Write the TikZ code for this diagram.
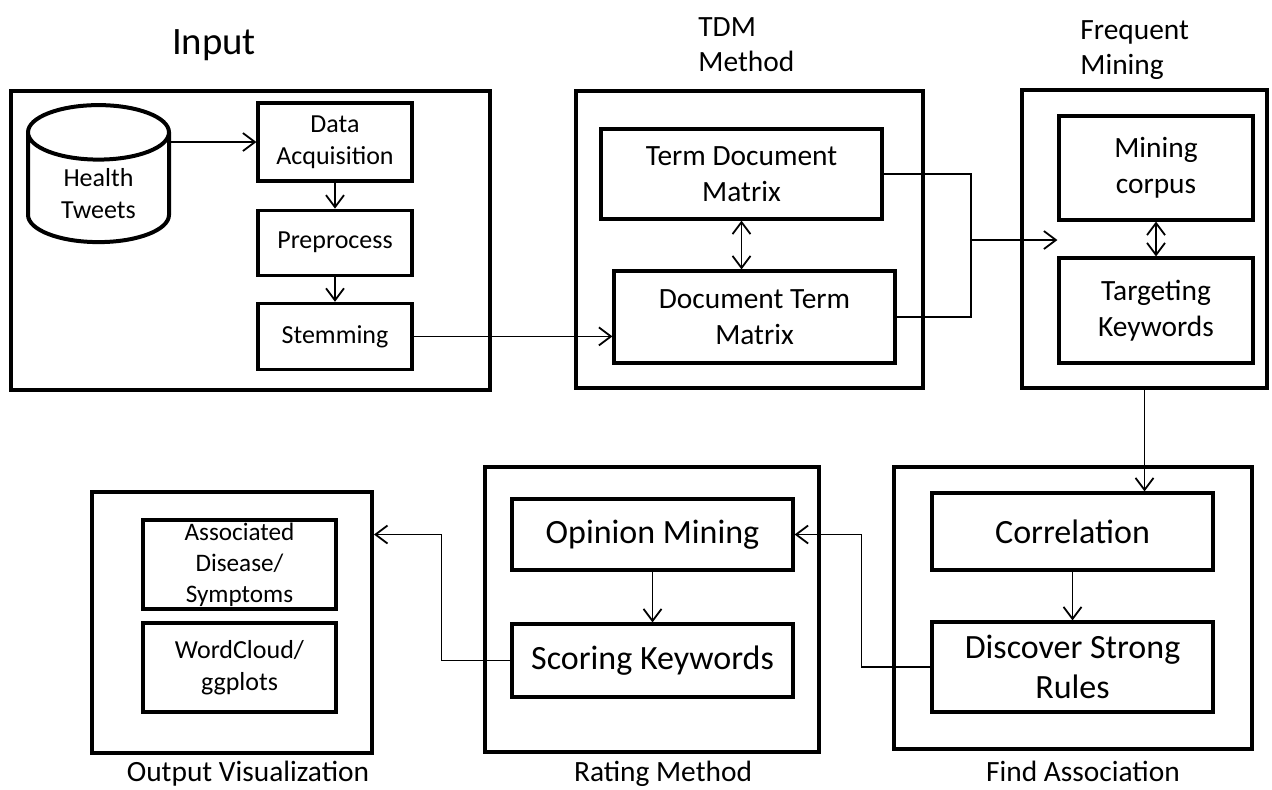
\documentclass[tikz,border=0pt]{standalone}
\usepackage{fontspec}
\setmainfont{Carlito}
\usepackage{tikz}
\usetikzlibrary{positioning,arrows.meta,shapes.geometric}
\tikzset{
  group/.style={draw,line width=2pt,inner sep=0pt},
  box/.style={draw,line width=1.6pt,align=center,inner sep=2pt,font=\fontsize{13}{16}\selectfont},
  midbox/.style={box,font=\fontsize{14.7}{18}\selectfont},
  bigbox/.style={box,font=\fontsize{17}{20}\selectfont},
  title/.style={align=left,inner sep=0pt,font=\fontsize{14.7}{17.5}\selectfont},
  link/.style={line width=0.9pt},
  arr/.style={->,link},
  >={Straight Barb[length=6pt,width=9pt]},
}

\begin{document}
\begin{tikzpicture}[x=0.5pt,y=-0.5pt]
\useasboundingbox (0,0) rectangle (1272,789);

% input
\node[title, font=\fontsize{19.4}{22}\selectfont] (intitle) at (214,45) {Input};
\node[group, minimum width=239.5pt, minimum height=149.5pt] (inbox) at (250.5,240.5) {};
\node[draw, line width=2pt, cylinder, shape border rotate=90, aspect=0.62,
      minimum width=70.5pt, minimum height=68.5pt, align=center,
      font=\fontsize{13}{16}\selectfont] (tweets) at (98.5,194) {Health\\Tweets};
\node[box, minimum width=77pt, minimum height=39pt] (acq) at (335,142) {Data\\Acquisition};
\node[box, minimum width=77pt, minimum height=32.5pt, below=13pt of acq] (prep) {Preprocess};
\node[box, minimum width=77pt, minimum height=33pt, below=12.5pt of prep] (stem) {Stemming};

\draw[arr] (tweets.east |- acq.west) -- (acq.west);
\draw[arr] (acq) -- (prep);
\draw[arr] (prep) -- (stem);

% tdm
\node[title, anchor=west] (tdmtitle) at (698,44.5) {TDM\\Method};
\node[group, minimum width=173.5pt, minimum height=148.5pt] (tdmbox) at (749.5,239.5) {};
\node[midbox, minimum width=140.5pt, minimum height=45pt] (tdm) at (741.5,174) {Term Document\\Matrix};
\node[midbox, minimum width=140.5pt, minimum height=46pt] (dtm) at (754.5,317) {Document Term\\Matrix};

\draw[arr] (stem.east) -- (stem.east -| dtm.west);
\draw[<->, link] (tdm.south) -- (tdm.south |- dtm.north);

% frequent mining
\node[title, anchor=west] (fmtitle) at (1080,50) {Frequent\\Mining};
\node[group, minimum width=122.5pt, minimum height=149pt] (fmbox) at (1144.5,239) {};
\node[midbox, minimum width=97pt, minimum height=52pt] (corpus) at (1156,168) {Mining\\corpus};
\node[midbox, minimum width=97pt, minimum height=52.5pt] (target) at (1156,310.5) {Targeting\\Keywords};

\coordinate (merge) at (971,240);
\draw[link] (tdm.east) -| (merge);
\draw[link] (dtm.east) -| (merge);
\draw[arr] (merge) -- (merge -| corpus.west);
\draw[<->, link] (corpus) -- (target);

% find association
\node[group, minimum width=179pt, minimum height=141pt] (fabox) at (1073,608) {};
\node[bigbox, minimum width=140.5pt, minimum height=38.5pt] (corr) at (1072.5,531.5) {Correlation};
\node[bigbox, minimum width=140.5pt, minimum height=45pt] (rules) at (1072.5,667) {Discover Strong\\Rules};
\node[title, anchor=base] (fatitle) at (1083,781) {Find Association};

\draw[arr] (fmbox.south) -- (fmbox.south |- corr.north);
\draw[arr] (corr) -- (rules);

% rating
\node[group, minimum width=167pt, minimum height=142.5pt] (rmbox) at (652,609.5) {};
\node[bigbox, minimum width=140.5pt, minimum height=35.5pt] (op) at (652.5,534.5) {Opinion Mining};
\node[bigbox, minimum width=140.5pt, minimum height=36.5pt] (score) at (652.5,660.5) {Scoring Keywords};
\node[title, anchor=base] (rmtitle) at (663,781) {Rating Method};

\draw[arr] (rules.west) -- ++(-69,0) |- (op.east);
\draw[arr] (op) -- (score);

% output
\node[group, minimum width=140pt, minimum height=130.5pt] (outbox) at (232,622.5) {};
\node[box, minimum width=96.5pt, minimum height=44.5pt, inner sep=0pt,
      font=\fontsize{12.6}{15.5}\selectfont] (assoc) at (239.5,564.5) {Associated\\Disease/\\Symptoms};
\node[box, minimum width=96.5pt, minimum height=44.5pt] (wcloud) at (239.5,667.5) {WordCloud/\\ggplots};
\node[title, anchor=base] (outtitle) at (248,781) {Output Visualization};

\draw[arr] (score.west) -- ++(-69,0) |- (outbox.east |- op.east);

\end{tikzpicture}
\end{document}
